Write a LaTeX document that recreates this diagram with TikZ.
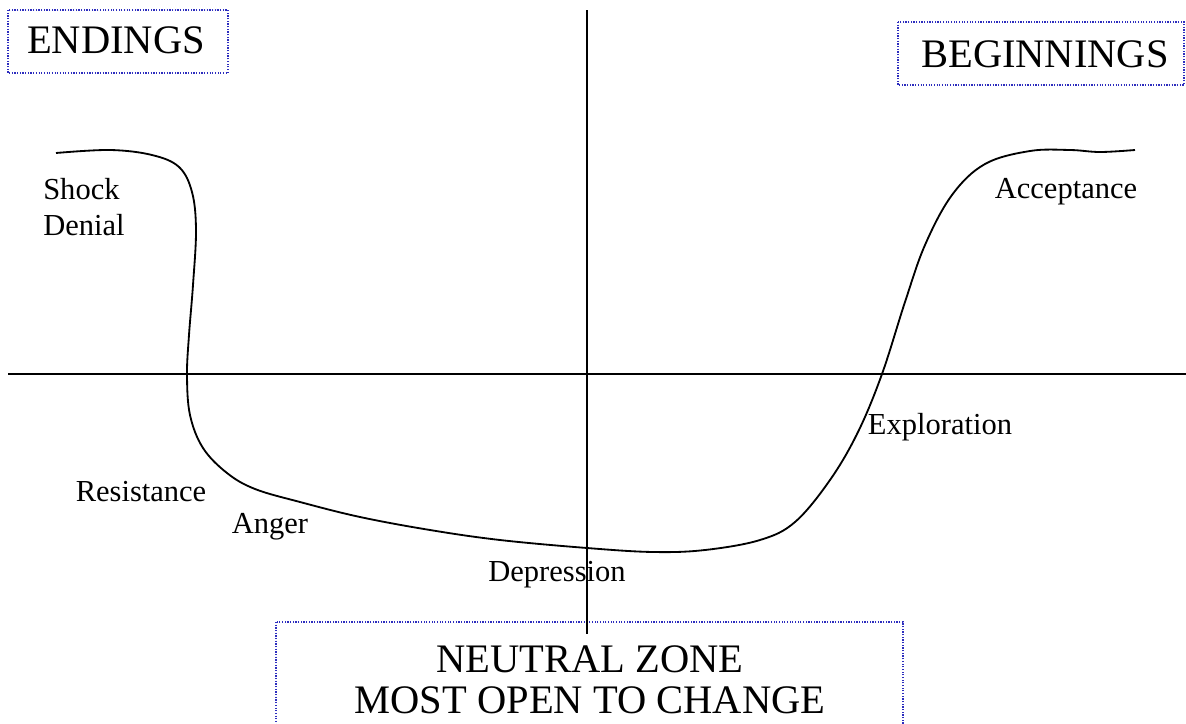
\documentclass[tikz,border=0pt]{standalone}
\definecolor{zoneblue}{RGB}{45,45,190}
\usepackage{fontspec}
\setmainfont{Liberation Serif}
\usepackage{tikz}
\usetikzlibrary{positioning,calc}

\begin{document}
\begin{tikzpicture}[x=0.025cm, y=-0.025cm,
          zone/.style={draw=zoneblue, densely dotted, line width=0.9pt},
          big/.style={font=\fontsize{28.8}{29}\selectfont, inner sep=0pt},
          lbl/.style={font=\fontsize{21.7}{26}\selectfont, inner sep=0pt},
          axis/.style={line width=1pt, black},
          curve/.style={line width=1.3pt, black}
        ]
          \useasboundingbox (0,0) rectangle (1186,724);
          % corner boxes
          \draw[zone] (8,10) rectangle (228,73);
          \node[big] (endings) at (116,40) {ENDINGS};
          \draw[zone] (898,22) rectangle (1184,85);
          \node[big] (beginnings) at (1045,54) {BEGINNINGS};
          \draw[zone] (276,622) rectangle (903,740);
          \node[big, align=center] (neutral) at (590,680) {NEUTRAL ZONE\\MOST OPEN TO CHANGE};
          % axes
          \coordinate (vtop) at (587,10);
          \coordinate (vbot) at (587,634);
          \coordinate (hleft) at (8,374);
          \coordinate (hright) at (1186,374);
          \draw[axis] (vtop) -- (vbot);
          \draw[axis] (hleft) -- (hright);
          % transition curve
          \draw[curve] plot[smooth, tension=0.6] coordinates {
            (56,153) (110,150) (152,155) (179,167) (192,192) (196,230)
            (193,285) (189,335) (187,375) (190,415) (203,448)
            (227,473) (255,489) (300,502) (360,517) (430,530) (500,540)
            (587,548) (653,552) (705,550) (760,540) (795,522) (830,480)
            (858,432) (882,374) (905,302) (925,245) (952,195)
            (985,164) (1030,151) (1070,150) (1100,152) (1135,150)};
          % stage labels
          \node[lbl, align=left, anchor=west] (shock) at (43,207) {Shock\\Denial};
          \node[lbl] (accept) at (1066,192) {Acceptance};
          \node[lbl] (explore) at (940,427) {Exploration};
          \node[lbl] (resist) at (141,492) {Resistance};
          \node[lbl] (anger) at (270,527) {Anger};
          \node[lbl] (depress) at (557,575) {Depression};
        \end{tikzpicture}
\end{document}
